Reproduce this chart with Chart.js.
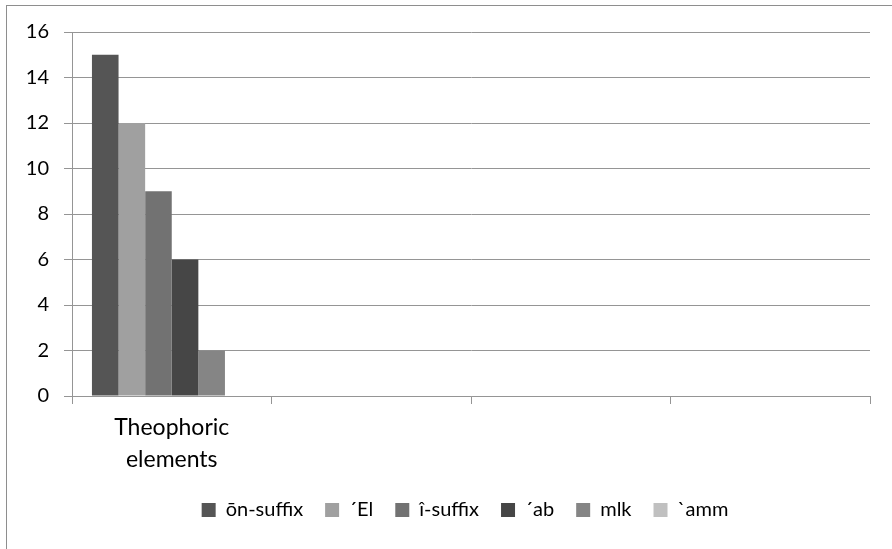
<!DOCTYPE html>
<html>
<head>
<meta charset="utf-8">
<script src="https://cdn.jsdelivr.net/npm/chart.js@4/dist/chart.umd.min.js"></script>
<style>
  html, body { margin: 0; padding: 0; background: #ffffff; overflow: hidden; }
  #frame { position: absolute; left: 6px; top: 5px; width: 1200px; height: 900px;
           border: 1px solid #8e8e8e; box-sizing: border-box; }
  #wrap { position: absolute; left: 0; top: 0; width: 892px; height: 549px; }
</style>
</head>
<body>
<div id="frame"></div>
<div id="wrap"><canvas id="c" width="892" height="549"></canvas></div>
<script>
// Categories along the x axis (only the first one carries a label)
const categories = [['Theophoric', 'elements'], '', '', ''];

// Series names and their counts per category
const seriesNames = ['ōn-suffix', '´El', 'î-suffix', '´ab', 'mlk', '`amm'];
const onSuffix = [15, null, null, null];
const elTheophore = [12, null, null, null];
const iSuffix = [9, null, null, null];
const abTheophore = [6, null, null, null];
const mlkTheophore = [2, null, null, null];
const ammTheophore = [0, null, null, null];

// Y axis ticks
const yTicks = [0, 2, 4, 6, 8, 10, 12, 14, 16];

const seriesValues = [onSuffix, elTheophore, iSuffix, abTheophore, mlkTheophore, ammTheophore];
const seriesColors = ['#555555', '#a0a0a0', '#727272', '#464646', '#858585', '#c0c0c0'];

const FONT = 'Lato, "Open Sans", sans-serif';
const GRID = '#959595';

// Keeps the legend row centred on a given x position
const legendShift = {
  id: 'legendShift',
  afterLayout(chart, args, opts) {
    const lg = chart.legend;
    if (!lg) return;
    const dx = opts.centerX - (lg.left + lg.right) / 2;
    lg.left += dx;
    lg.right += dx;
  }
};

new Chart(document.getElementById('c'), {
  type: 'bar',
  data: {
    labels: categories,
    datasets: seriesNames.map((name, i) => ({
      label: name,
      data: seriesValues[i],
      backgroundColor: seriesColors[i],
      borderWidth: 0,
      categoryPercentage: 0.8,
      barPercentage: 1.0
    }))
  },
  options: {
    responsive: false,
    animation: false,
    devicePixelRatio: 1,
    layout: { padding: { left: 0, right: 22, top: 32, bottom: 19 } },
    plugins: {
      tooltip: { enabled: false },
      legend: {
        position: 'bottom',
        labels: {
          boxWidth: 14,
          boxHeight: 14,
          padding: 22,
          color: '#000000',
          font: { family: FONT, size: 20 }
        }
      },
      legendShift: { centerX: 465 }
    },
    scales: {
      x: {
        afterFit(scale) { scale.height = 82; },
        grid: {
          offset: true,
          drawOnChartArea: false,
          drawTicks: true,
          tickLength: 8,
          color: GRID
        },
        border: { display: true, color: GRID },
        ticks: {
          color: '#000000',
          padding: 7,
          maxRotation: 0,
          autoSkip: false,
          font: { family: FONT, size: 23, lineHeight: 1.4 }
        }
      },
      y: {
        min: 0,
        max: 16,
        afterFit(scale) { scale.width = 72; },
        afterBuildTicks(scale) { scale.ticks = yTicks.map(v => ({ value: v })); },
        grid: { color: GRID, drawTicks: true, tickLength: 8 },
        border: { display: true, color: GRID },
        ticks: {
          color: '#000000',
          padding: 15,
          font: { family: FONT, size: 20 }
        }
      }
    }
  },
  plugins: [legendShift]
});
</script>
</body>
</html>
